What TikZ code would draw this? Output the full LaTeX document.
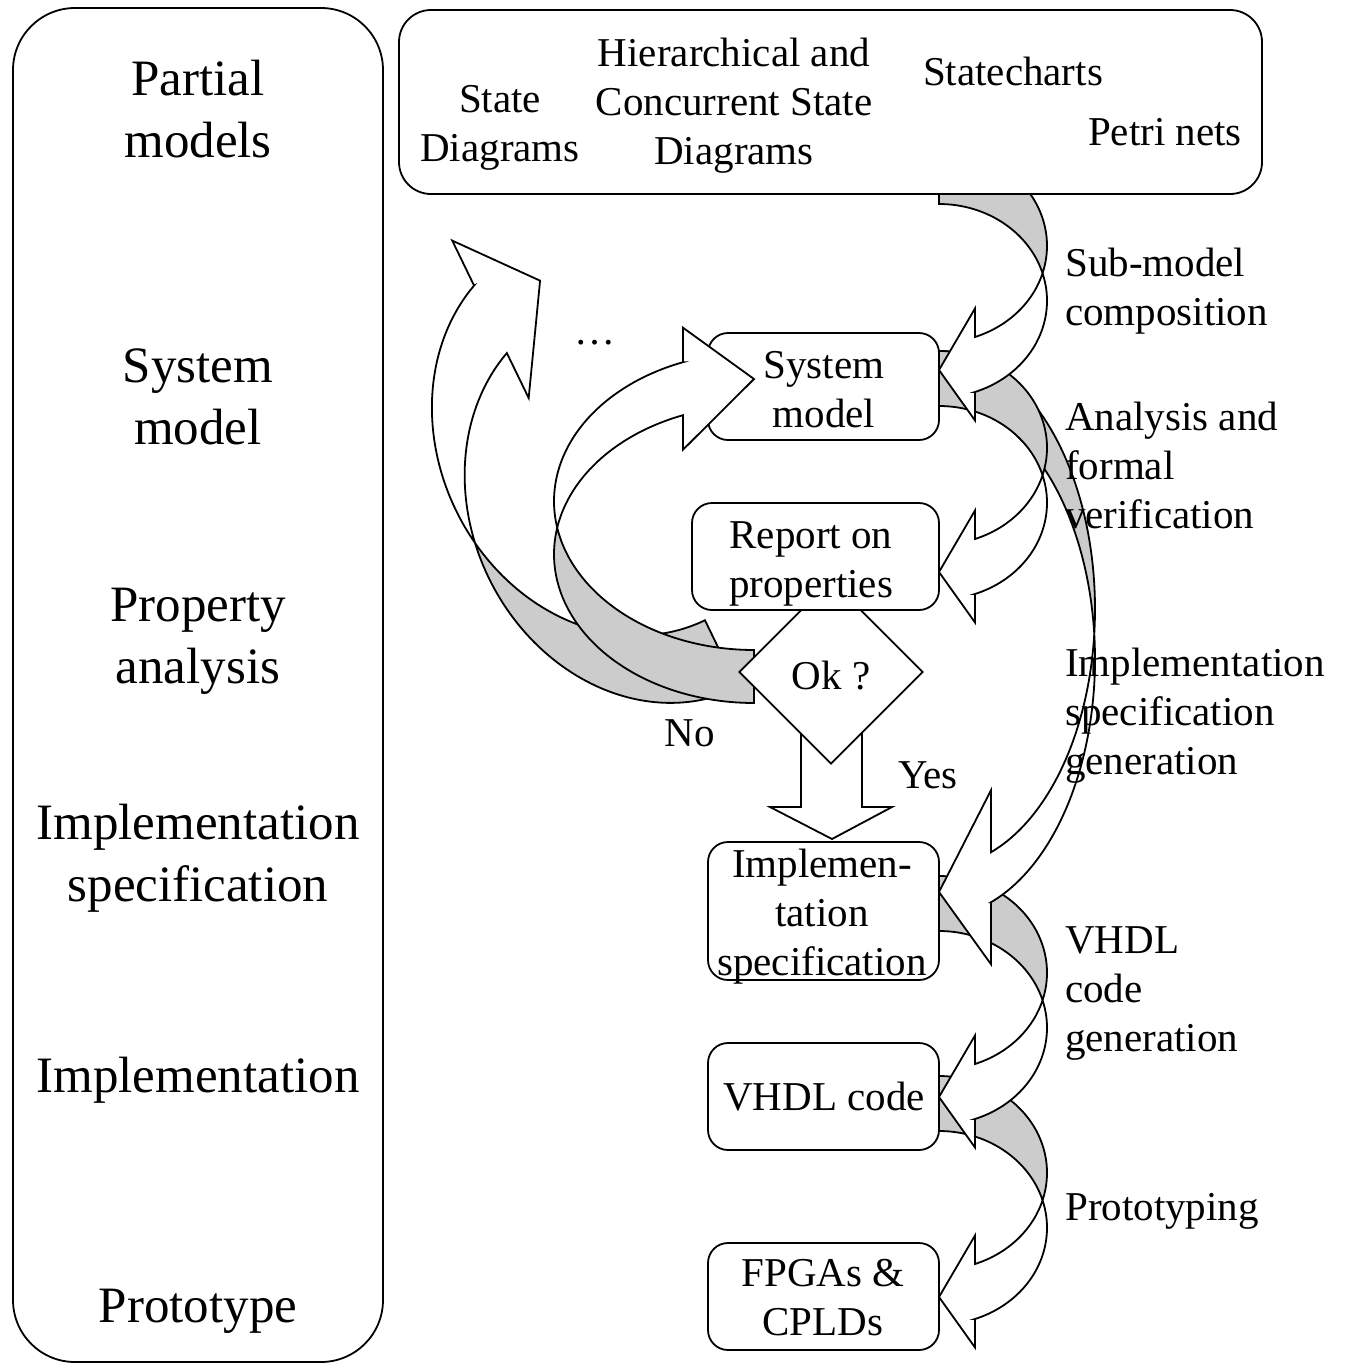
\documentclass[tikz,border=0pt]{standalone}
\usepackage{fontspec}
\setmainfont{Liberation Serif}
\usetikzlibrary{shapes.geometric}
\tikzset{
  outline/.style={draw=black, line width=1.8pt},
  boxstyle/.style={outline, fill=white, rounded corners=20pt, inner sep=0pt},
  backface/.style={outline, fill=black!20, line join=miter},
  frontface/.style={outline, fill=white, line join=miter},
  lbl/.style={inner sep=0pt, align=center, font=\fontsize{41}{49}\selectfont},
  rlbl/.style={inner sep=0pt, align=left, anchor=west, font=\fontsize{41}{49}\selectfont},
  biglbl/.style={inner sep=0pt, align=center, font=\fontsize{51}{62}\selectfont},
}
% curved block arrow (local frame: origin = top of start edge, x right, y down)
\newcommand{\CurvArrow}[6]{%
\begin{scope}[#1]
\pgfmathsetmacro\caW{#2}
\pgfmathsetmacro\caH{#3}
\pgfmathsetmacro\caT{#4}
\pgfmathsetmacro\caAW{#5}
\pgfmathsetmacro\caAH{#6}
\pgfmathsetmacro\caR{\caH/2-(\caT+\caAW)/4}
\pgfmathsetmacro\caX{asin(\caT/(2*\caR))}
\pgfmathsetmacro\caF{acos(\caAH/\caW)}
\pgfmathsetmacro\caDY{\caR*sin(\caF)}
\pgfmathsetmacro\caYv{\caR+\caDY}
\pgfmathsetmacro\caYvii{\caR+\caT+\caDY}
\pgfmathsetmacro\caDH{(\caAW-\caT)/2}
\pgfmathsetmacro\caYiv{\caYv-\caDH}
\pgfmathsetmacro\caYviii{\caYvii+\caDH}
\pgfmathsetmacro\caYvi{\caH-\caAW/2}
\draw[backface] (0,0)
  -- plot[domain=-90:\caX,samples=60,variable=\t] ({\caW*cos(\t)},{\caR+\caR*sin(\t)})
  -- plot[domain=-\caX:-90,samples=60,variable=\t] ({\caW*cos(\t)},{\caR+\caT+\caR*sin(\t)})
  -- cycle;
\draw[frontface] (0,\caYvi) -- (\caAH,\caYviii) -- (\caAH,\caYvii)
  -- plot[domain=\caF:-\caX,samples=60,variable=\t] ({\caW*cos(\t)},{\caR+\caT+\caR*sin(\t)})
  -- plot[domain=\caX:\caF,samples=60,variable=\t] ({\caW*cos(\t)},{\caR+\caR*sin(\t)})
  -- (\caAH,\caYiv) -- cycle;
\end{scope}}
\begin{document}
\begin{tikzpicture}[x=1pt, y=-1pt]
\useasboundingbox (0,0) rectangle (1349,1366);

% stage column
\node[outline, rounded corners=62pt, minimum width=370pt, minimum height=1354pt, inner sep=0pt] (stages) at (198,685) {};

% right-hand curved arrows (drawn bottom-up so upper ones lie on top)
\CurvArrow{shift={(939,1076)}}{108}{277}{55}{112}{36}
\CurvArrow{shift={(939,876)}}{108}{277}{55}{112}{36}
\CurvArrow{shift={(939,351)}}{156}{628}{50}{174}{52}
\CurvArrow{shift={(939,351)}}{108}{277}{55}{112}{36}
\CurvArrow{shift={(939,149)}}{108}{277}{55}{112}{36}

% boxes
\node[boxstyle, rounded corners=32pt, minimum width=863pt, minimum height=184pt] (partial) at (830.5,102) {};
\node[boxstyle, minimum width=231pt, minimum height=107pt] (sysm) at (823.5,386.5) {};
\node[boxstyle, minimum width=231pt, minimum height=138pt] (implspec) at (823.5,911) {};
\node[boxstyle, minimum width=231pt, minimum height=107pt] (vhdl) at (823.5,1096.5) {};
\node[boxstyle, minimum width=231pt, minimum height=107pt] (fpga) at (823.5,1296.5) {};

% feedback arrows on the left
\CurvArrow{shift={(737.7,687.7)},rotate=205.9}{176}{540}{75}{175}{61.5}
\CurvArrow{shift={(754,703)},rotate=180}{200}{385}{53}{122}{71}

% Yes block arrow, decision, report
\draw[frontface] (801,700) -- (801,807) -- (770,807) -- (832,839) -- (892,807) -- (862,807) -- (862,700) -- cycle;
\node[outline, fill=white, diamond, minimum width=184pt, minimum height=184pt, inner sep=0pt] (okq) at (831,672) {};
\node[boxstyle, minimum width=247pt, minimum height=107pt] (report) at (815.5,556.5) {};

% texts: stage column
\node[biglbl] (t1) at (198,109) {Partial\\models};
\node[biglbl] (t2) at (198,397) {System\\model};
\node[biglbl] (t3) at (198,641.5) {Property\\analysis};
\node[biglbl] (t4) at (198,858.5) {Implementation\\specification};
\node[biglbl] (t5) at (198,1080.5) {Implementation};
\node[biglbl] (t6) at (198,1311.5) {Prototype};

% texts: partial models
\node[lbl] (pm1) at (500,127.5) {State\\Diagrams};
\node[lbl] (pm2) at (734,105.5) {Hierarchical and\\Concurrent State\\Diagrams};
\node[lbl] (pm3) at (1013,71) {Statecharts};
\node[lbl] (pm4) at (1165,132) {Petri nets};

% texts: flow boxes
\node[lbl] (sysmt) at (824,389.5) {System\\model};
\node[lbl] (reportt) at (811,564) {Report on\\properties};
\node[lbl] (okt) at (831,676) {Ok ?};
\node[lbl] (implt) at (822,917) {Implemen-\\tation\\specification};
\node[lbl] (vhdlt) at (824,1097) {VHDL code};
\node[lbl] (fpgat) at (823,1298) {FPGAs \&\\CPLDs};
\node[lbl] (no) at (690,733) {No};
\node[lbl] (yes) at (928,775) {Yes};
\node[lbl, anchor=base] (dots) at (595,344) {…};

% texts: transformation labels
\node[rlbl] (r1) at (1065,291) {Sub-model\\composition};
\node[rlbl] (r2) at (1065,465) {Analysis and\\formal\\verification};
\node[rlbl] (r3) at (1065,716) {Implementation\\specification\\generation};
\node[rlbl] (r4) at (1065,993.5) {VHDL\\code\\generation};
\node[rlbl] (r5) at (1065,1211.5) {Prototyping};
\end{tikzpicture}
\end{document}
